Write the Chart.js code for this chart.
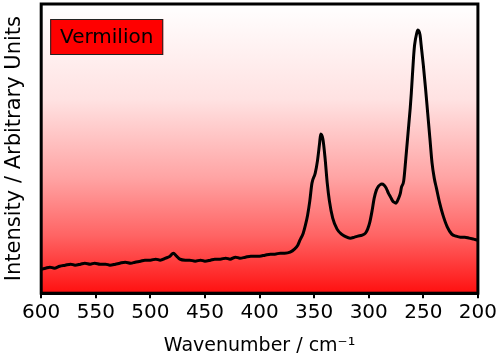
<!DOCTYPE html>
<html>
<head>
<meta charset="utf-8">
<script src="https://cdn.jsdelivr.net/npm/chart.js@4.4.1/dist/chart.umd.min.js"></script>
<style>
  html, body { margin: 0; padding: 0; background: #fff; }
  #wrap { width: 500px; height: 361px; }
</style>
</head>
<body>
<div id="wrap"><canvas id="chart"></canvas></div>
<script>
// Raman spectrum of vermilion
var seriesName = "Vermilion";
var wavenumber = [600, 596, 592, 588, 583, 578, 573, 569, 564, 560, 555, 551, 546, 541, 537, 532, 528, 523, 518, 514, 509, 505, 500, 495, 491, 486, 482, 479, 476, 473, 468, 464, 459, 454, 450, 445, 441, 436, 431, 427, 422, 418, 413, 408, 404, 400, 395, 390, 386, 381, 377, 372, 368, 365, 363, 360, 358, 356, 354, 352, 349, 347, 345, 344, 342, 340, 338, 336, 333, 329, 325, 322, 317, 313, 310, 306, 303, 301, 299, 297, 295, 293, 291, 290, 288, 286, 284, 282, 280, 278, 277, 275, 273, 271, 270, 268, 266, 264, 262, 261, 259, 258, 256, 255, 253, 252, 250, 248, 246, 244, 242, 240, 238, 235, 232, 228, 224, 220, 216, 212, 208, 204, 200];
var intensity = [24, 25, 26, 25, 27, 28, 29, 28, 29, 30, 29, 30, 29, 29, 28, 29, 30, 31, 30, 31, 32, 33, 33, 34, 33, 35, 37, 40, 37, 34, 33, 33, 32, 33, 32, 33, 34, 34, 35, 34, 36, 35, 36, 37, 37, 37, 38, 39, 39, 40, 40, 41, 44, 48, 53, 60, 68, 78, 92, 110, 120, 132, 150, 159, 154, 135, 110, 92, 75, 64, 59, 57, 55, 56, 57, 58, 60, 64, 71, 82, 95, 103, 107, 108, 109, 108, 105, 100, 96, 92, 91, 90, 94, 100, 106, 112, 135, 160, 185, 200, 235, 248, 260, 263, 258, 248, 228, 205, 180, 155, 130, 115, 105, 90, 78, 66, 59, 57, 56, 56, 55, 54, 53];
var xTicks = [600, 550, 500, 450, 400, 350, 300, 250, 200];

var points = wavenumber.map(function (w, i) {
    return { x: w, y: intensity[i] };
});

var fontFamily = "'DejaVu Sans', sans-serif";

// gradient behind the plot, and the frame + label box on top
var plotDecor = {
    id: 'plotDecor',
    beforeDatasetsDraw: function (chart) {
        var a = chart.chartArea;
        var ctx = chart.ctx;
        var g = ctx.createLinearGradient(0, a.top, 0, a.bottom);
        g.addColorStop(0, '#ffffff');
        g.addColorStop(0.33, '#ffe2e2');
        g.addColorStop(0.6, '#ffa4a4');
        g.addColorStop(0.8, '#ff6464');
        g.addColorStop(1, '#ff1010');
        ctx.save();
        ctx.fillStyle = g;
        ctx.fillRect(a.left, a.top, a.right - a.left, a.bottom - a.top);
        ctx.restore();
    },
    afterDraw: function (chart) {
        var a = chart.chartArea;
        var ctx = chart.ctx;
        ctx.save();
        ctx.strokeStyle = '#000';
        ctx.lineWidth = 3;
        ctx.strokeRect(a.left, a.top, a.right - a.left, a.bottom - a.top);
        // label box
        var bx = a.left + 9, by = a.top + 15, bw = 113, bh = 36;
        ctx.fillStyle = '#ff0000';
        ctx.fillRect(bx, by, bw, bh);
        ctx.lineWidth = 1;
        ctx.strokeStyle = '#222';
        ctx.strokeRect(bx + 0.5, by + 0.5, bw - 1, bh - 1);
        ctx.fillStyle = '#000';
        ctx.font = '20px ' + fontFamily;
        ctx.textAlign = 'center';
        ctx.textBaseline = 'middle';
        ctx.fillText(chart.data.datasets[0].label, bx + bw / 2, by + bh / 2 + 1);
        ctx.restore();
    }
};

new Chart(document.getElementById('chart'), {
    type: 'line',
    data: {
        datasets: [{
            label: seriesName,
            data: points,
            borderColor: '#000',
            borderWidth: 3,
            pointRadius: 0,
            cubicInterpolationMode: 'monotone',
            fill: false
        }]
    },
    options: {
        responsive: true,
        maintainAspectRatio: false,
        animation: false,
        layout: { padding: { top: 4, right: 12, left: 2, bottom: 4 } },
        plugins: {
            legend: { display: false },
            tooltip: { enabled: false }
        },
        scales: {
            x: {
                type: 'linear',
                reverse: true,
                min: 200,
                max: 600,
                afterBuildTicks: function (axis) {
                    axis.ticks = xTicks.map(function (v) { return { value: v }; });
                },
                grid: {
                    display: true,
                    drawOnChartArea: false,
                    tickLength: 5,
                    tickColor: '#000',
                    lineWidth: 2
                },
                border: { display: true, color: '#000', width: 3 },
                ticks: {
                    color: '#000',
                    font: { family: fontFamily, size: 20 },
                    padding: 3,
                    maxRotation: 0,
                    autoSkip: false
                },
                title: {
                    display: true,
                    text: 'Wavenumber / cm\u207B\u00B9',
                    color: '#000',
                    font: { family: fontFamily, size: 19 },
                    padding: { top: 6, bottom: 0 }
                }
            },
            y: {
                min: 0,
                max: 289,
                grid: { display: false },
                border: { display: true, color: '#000', width: 3 },
                ticks: { display: false },
                title: {
                    display: true,
                    text: 'Intensity / Arbitrary Units',
                    color: '#000',
                    font: { family: fontFamily, size: 21 },
                    padding: { top: 0, bottom: 6 }
                }
            }
        }
    },
    plugins: [plotDecor]
});
</script>
</body>
</html>
